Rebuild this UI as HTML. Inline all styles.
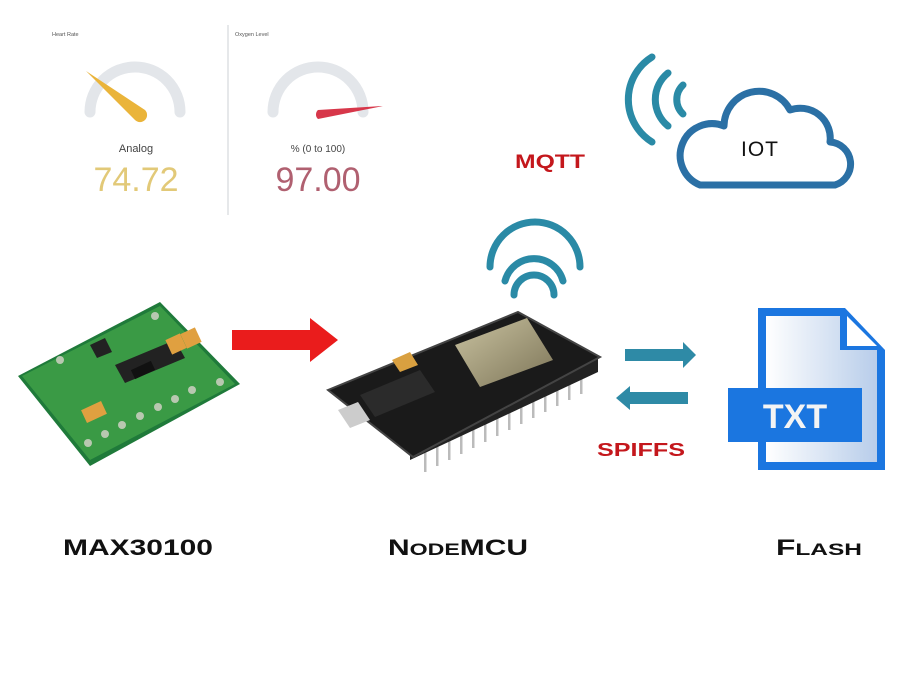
<!DOCTYPE html>
<html><head><meta charset="utf-8"><style>
html,body{margin:0;padding:0;background:#fff}
svg{display:block}
</style></head><body>
<svg width="900" height="675" viewBox="0 0 900 675" xmlns="http://www.w3.org/2000/svg" font-family="Liberation Sans, sans-serif">
<defs>
<linearGradient id="doc" x1="0" y1="0" x2="1" y2="0"><stop offset="0" stop-color="#ffffff"/><stop offset="1" stop-color="#b8cdea"/></linearGradient>
<linearGradient id="mod" x1="0" y1="0" x2="1" y2="1"><stop offset="0" stop-color="#c9c2a0"/><stop offset="1" stop-color="#7d7558"/></linearGradient>
</defs>
<rect width="900" height="675" fill="#fff"/>
<!-- dashboard -->
<text x="52" y="36" font-size="5.5" fill="#555">Heart Rate</text>
<text x="235" y="36" font-size="5.5" fill="#555">Oxygen Level</text>
<line x1="228" y1="25" x2="228" y2="215" stroke="#dde0e4" stroke-width="1.5"/>
<path d="M90 112 A45 45 0 0 1 180 112" fill="none" stroke="#e3e6ea" stroke-width="11" stroke-linecap="round"/>
<path d="M86 71 L145 110 A6 6 0 0 1 135 120 Z" fill="#eab43a"/>
<text x="136" y="152" font-size="11" fill="#444" text-anchor="middle">Analog</text>
<text x="136" y="191" font-size="34" fill="#e2c978" text-anchor="middle">74.72</text>
<path d="M273 112 A45 45 0 0 1 363 112" fill="none" stroke="#e3e6ea" stroke-width="11" stroke-linecap="round"/>
<path d="M383 106 L318 110 A6 6 0 0 0 318 119 Z" fill="#d7374a"/>
<text x="318" y="152" font-size="10" fill="#444" text-anchor="middle">% (0 to 100)</text>
<text x="318" y="191" font-size="34" fill="#b06070" text-anchor="middle">97.00</text>
<!-- MQTT / cloud -->
<text x="515" y="168" font-size="19" fill="#c4171c" font-weight="bold" textLength="70" lengthAdjust="spacingAndGlyphs">MQTT</text>
<g fill="none" stroke="#2a8aa6" stroke-width="7" stroke-linecap="round">
<path d="M652 57 A50 50 0 0 0 652 142"/>
<path d="M668 73 A34 34 0 0 0 668 126"/>
<path d="M683 85 A20 20 0 0 0 683 114"/>
</g>
<path d="M700 185 L835 185 A22 22 0 0 0 830 142 A30 30 0 0 0 790 110 A35 35 0 0 0 724 126 A28 28 0 0 0 700 185 Z" fill="#fff" stroke="#2b70a5" stroke-width="7" stroke-linejoin="round"/>
<text x="760" y="156" font-size="21" fill="#111" text-anchor="middle" letter-spacing="1">IOT</text>
<!-- wifi over nodemcu -->
<g fill="none" stroke="#2a8aa6" stroke-width="7" stroke-linecap="round">
<path d="M490 267 A45 45 0 0 1 580 267"/>
<path d="M505 281 A30 30 0 0 1 563 281"/>
<path d="M514 295 A20 20 0 0 1 554 295"/>
</g>
<!-- MAX30100 board -->
<polygon points="18,376 160,302 240,384 90,466" fill="#1f7a3a"/>
<polygon points="22,376 160,306 235,384 90,460" fill="#3a9a45"/>
<polygon points="90,345 105,338 112,352 97,358" fill="#222"/>
<polygon points="115,365 175,340 185,358 125,383" fill="#222"/>
<rect x="132" y="365" width="22" height="10" fill="#111" transform="rotate(-25 143 370)"/>
<rect x="168" y="336" width="16" height="16" fill="#e0a040" transform="rotate(-25 176 344)"/>
<rect x="183" y="330" width="16" height="16" fill="#e0a040" transform="rotate(-25 191 338)"/>
<rect x="83" y="405" width="22" height="14" fill="#e0a040" transform="rotate(-25 94 412)"/>
<g fill="#b8c8b0"><circle cx="88" cy="443" r="4"/><circle cx="105" cy="434" r="4"/><circle cx="122" cy="425" r="4"/><circle cx="140" cy="416" r="4"/><circle cx="158" cy="407" r="4"/><circle cx="175" cy="399" r="4"/><circle cx="192" cy="390" r="4"/><circle cx="60" cy="360" r="4"/><circle cx="155" cy="316" r="4"/><circle cx="220" cy="382" r="4"/></g>
<!-- red arrow -->
<polygon points="232,330 310,330 310,318 338,340 310,362 310,350 232,350" fill="#ea1c1c"/>
<!-- NodeMCU -->
<g fill="#bbb"><rect x="424" y="430" width="2.5" height="42"/><rect x="436" y="424" width="2.5" height="42"/><rect x="448" y="418" width="2.5" height="42"/><rect x="460" y="412" width="2.5" height="42"/><rect x="472" y="406" width="2.5" height="42"/><rect x="484" y="400" width="2.5" height="42"/><rect x="496" y="394" width="2.5" height="42"/><rect x="508" y="388" width="2.5" height="42"/><rect x="520" y="382" width="2.5" height="42"/><rect x="532" y="376" width="2.5" height="42"/><rect x="544" y="370" width="2.5" height="42"/><rect x="556" y="364" width="2.5" height="42"/><rect x="568" y="358" width="2.5" height="42"/><rect x="580" y="352" width="2.5" height="42"/></g>
<polygon points="410,445 598,358 598,372 410,460" fill="#222"/>
<polygon points="328,390 518,312 600,357 413,457" fill="#1a1a1a" stroke="#444" stroke-width="2"/>
<polygon points="455,345 527,318 553,360 480,387" fill="url(#mod)"/>
<polygon points="338,410 358,402 370,420 350,428" fill="#ccc"/>
<polygon points="392,360 410,352 418,365 400,372" fill="#d9a040"/>
<polygon points="360,395 420,370 435,392 375,417" fill="#2b2b2b"/>
<!-- blue arrows -->
<polygon points="625,349 683,349 683,342 696,355 683,368 683,361 625,361" fill="#2e8aa6"/>
<polygon points="688,392 630,392 630,386 616,398 630,410 630,404 688,404" fill="#2e8aa6"/>
<text x="597" y="456" font-size="18" fill="#c4171c" font-weight="bold" textLength="88" lengthAdjust="spacingAndGlyphs">SPIFFS</text>
<!-- TXT doc -->
<polygon points="758,308 845,308 885,350 885,470 758,470" fill="#1b76e0"/>
<polygon points="766,316 840,316 840,350 877,350 877,462 766,462" fill="url(#doc)"/>
<polygon points="847,316 877,346 847,346" fill="#fff"/>
<rect x="728" y="388" width="134" height="54" fill="#1b76e0"/>
<text x="795" y="428" font-size="34" fill="#f4f4f4" font-weight="bold" text-anchor="middle">TXT</text>
<!-- labels -->
<text x="63" y="555" font-size="22" fill="#111" font-weight="bold" textLength="150" lengthAdjust="spacingAndGlyphs">MAX30100</text>
<text x="388" y="555" font-size="22" fill="#111" font-weight="bold" textLength="140" lengthAdjust="spacingAndGlyphs">N<tspan font-size="17">ODE</tspan>MCU</text>
<text x="776" y="555" font-size="22" fill="#111" font-weight="bold" textLength="86" lengthAdjust="spacingAndGlyphs">F<tspan font-size="17">LASH</tspan></text>
</svg>
</body></html>
